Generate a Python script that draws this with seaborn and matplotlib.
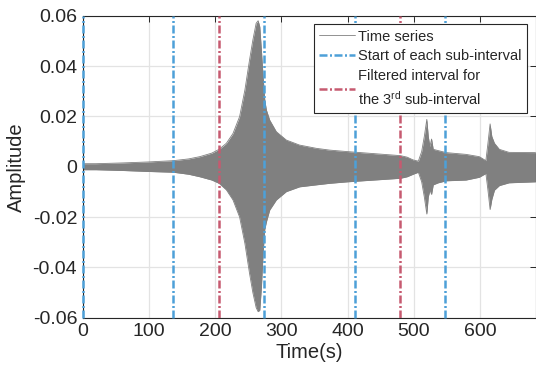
import numpy as np
import pandas as pd
import matplotlib
matplotlib.use("Agg")
import matplotlib.pyplot as plt
from matplotlib.ticker import FuncFormatter
import seaborn as sns

# envelope of the (very dense) time series
time_s = [0, 20, 60, 100, 137, 160, 177, 195, 206, 217, 227, 237, 245, 252, 257,
          262, 265, 267.5, 270, 272.5, 275, 277.5, 282.5, 292.5, 307.5, 327.5, 353,
          373, 400, 440, 480, 490, 499, 507, 512, 516, 519.8, 522, 524.5, 527, 529.5,
          537, 549, 579, 599, 609, 612, 615.4, 618, 622, 629.4, 644, 684]
upper = [0.0012, 0.0012, 0.0015, 0.0019, 0.0024, 0.0031, 0.0040, 0.0054, 0.0069,
         0.0093, 0.0132, 0.0199, 0.0305, 0.0424, 0.0503, 0.057, 0.058, 0.0556,
         0.046, 0.0358, 0.0265, 0.0225, 0.0185, 0.0139, 0.0106, 0.0086, 0.0073,
         0.0066, 0.0060, 0.0052, 0.0044, 0.0038, 0.0027, 0.0022, 0.0060, 0.0120,
         0.0188, 0.0120, 0.0080, 0.0110, 0.0069, 0.0064, 0.0056, 0.0049, 0.0040,
         0.0024, 0.0090, 0.0170, 0.0120, 0.0093, 0.0069, 0.0057, 0.0056]
lower = [-0.0012, -0.0012, -0.0015, -0.0019, -0.0022, -0.0030, -0.0040, -0.0053,
         -0.0066, -0.0092, -0.0132, -0.0200, -0.0305, -0.0424, -0.0500, -0.056,
         -0.0576, -0.057, -0.0477, -0.0344, -0.025, -0.0219, -0.0172, -0.0132,
         -0.0099, -0.0080, -0.0072, -0.0066, -0.0060, -0.0053, -0.0046, -0.0040,
         -0.0030, -0.0022, -0.0060, -0.0120, -0.0188, -0.0120, -0.0093, -0.0110,
         -0.0072, -0.0064, -0.0056, -0.0053, -0.0042, -0.0027, -0.0090, -0.0170,
         -0.0130, -0.0093, -0.0075, -0.0064, -0.0060]

starts = [0, 137, 274, 411, 548]          # start of each sub-interval
filtered = [205.5, 479.5]                 # filtered interval for the 3rd one

BLUE = "#4DA0D8"
RED = "#C65A70"
GRAY = "#808080"

sns.set_theme(style="whitegrid")
plt.rcParams["font.family"] = ["Liberation Sans", "DejaVu Sans"]
plt.rcParams["mathtext.fontset"] = "custom"
plt.rcParams["mathtext.rm"] = "Liberation Sans"
plt.rcParams["mathtext.it"] = "Liberation Sans:italic"
plt.rcParams["axes.unicode_minus"] = False

fig = plt.figure(figsize=(5.36, 3.74), dpi=100)
ax = fig.add_axes([0.1543, 0.1505, 0.8448, 0.8075])

df = pd.DataFrame({"t": time_s, "up": upper, "lo": lower})
ax.fill_between(df["t"], df["lo"], df["up"], color=GRAY, lw=0)
sns.lineplot(data=df, x="t", y="up", ax=ax, color=GRAY, lw=0.6, label="Time series")
sns.lineplot(data=df, x="t", y="lo", ax=ax, color=GRAY, lw=0.6, label="_nolegend_")

dd = (3.2, 1.0, 0.8, 1.0)
for i, s in enumerate(starts):
    ax.axvline(s, color=BLUE, lw=1.8, dashes=dd, clip_on=False, zorder=5,
               label="Start of each sub-interval" if i == 0 else "_nolegend_")
for i, f in enumerate(filtered):
    ax.axvline(f, color=RED, lw=1.8, dashes=dd, zorder=5,
               label="Filtered interval for\nthe 3$^{\\mathrm{rd}}$ sub-interval" if i == 0 else "_nolegend_")

ax.set_xlim(0, 684)
ax.set_ylim(-0.06, 0.06)
ax.set_xticks([0, 100, 200, 300, 400, 500, 600])
ax.set_yticks([-0.06, -0.04, -0.02, 0, 0.02, 0.04, 0.06])
ax.yaxis.set_major_formatter(FuncFormatter(lambda v, p: "0" if abs(v) < 1e-9 else "%g" % v))

ax.set_xlabel("Time(s)", fontsize=14.5, color="#262626", labelpad=2)
ax.set_ylabel("Amplitude", fontsize=14.5, color="#262626", labelpad=5)
ax.tick_params(axis="both", labelsize=14, colors="#262626", direction="in",
               length=4, width=0.7, top=True, right=True, pad=4)
ax.grid(True, color="#E3E3E3", lw=0.9)
for sp in ax.spines.values():
    sp.set_color("#262626")
    sp.set_linewidth(0.8)
    sp.set_zorder(4)

leg = ax.legend(loc="upper right", fontsize=10.5, frameon=True, fancybox=False,
                framealpha=1, edgecolor="#262626", handlelength=2.5,
                handletextpad=0.2, borderpad=0.35, labelspacing=0.4,
                borderaxespad=0.6)
leg.get_frame().set_linewidth(0.8)
leg.set_zorder(10)
leg.get_texts()[2].set_linespacing(1.45)

fig.savefig("out.png", dpi=100)
